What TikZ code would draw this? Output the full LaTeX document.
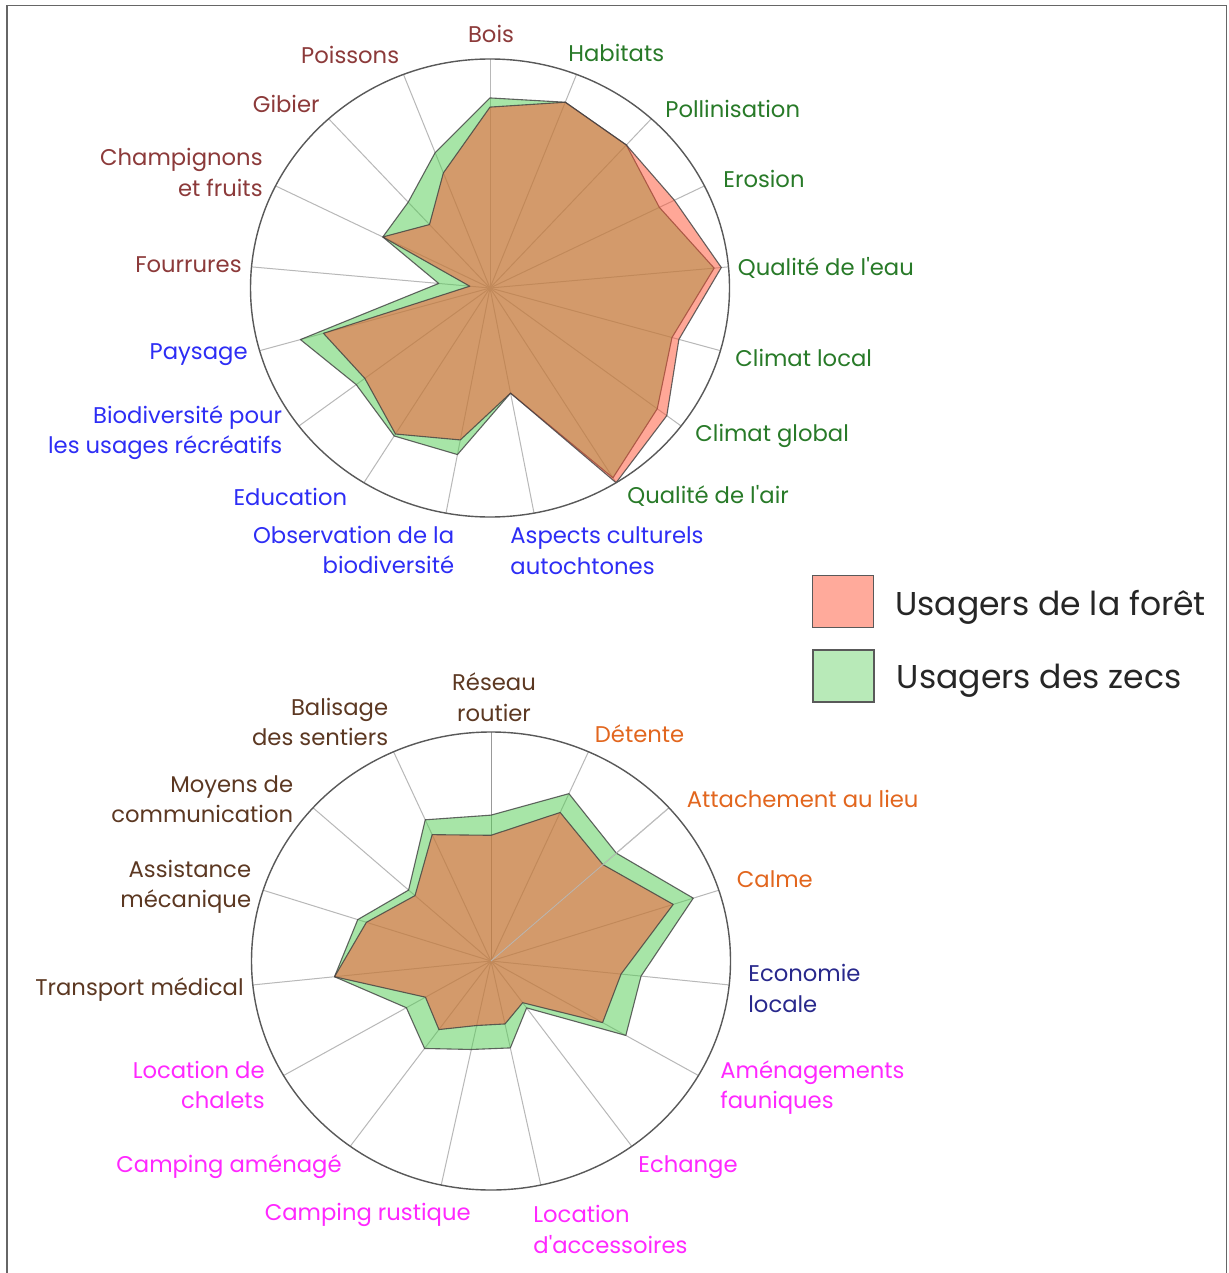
\documentclass[tikz,border=0pt]{standalone}
\usepackage{fontspec}
\setmainfont{Poppins}[Ligatures=TeXOff]
\definecolor{gfillc}{RGB}{81,205,81}
\definecolor{rfillc}{RGB}{255,81,49}
\definecolor{legred}{RGB}{255,170,155}
\definecolor{leggreen}{RGB}{184,234,184}
\definecolor{cmaroon}{RGB}{140,58,58}
\definecolor{cgreen}{RGB}{40,122,40}
\definecolor{cblue}{RGB}{45,45,245}
\definecolor{cbrown}{RGB}{92,56,34}
\definecolor{corange}{RGB}{226,102,30}
\definecolor{cnavy}{RGB}{40,40,140}
\definecolor{cmagenta}{RGB}{255,40,255}
\begin{document}
\begin{tikzpicture}[x=0.5pt,y=-0.5pt,
  frame/.style={draw=black!60,line width=0.9pt},
  spoke/.style={draw=black!28,line width=0.5pt},
  ring/.style={draw=black!65,line width=0.7pt},
  gpoly/.style={fill=gfillc,fill opacity=0.5,draw=black!75,draw opacity=0.8,line width=0.55pt,line join=round},
  rpoly/.style={fill=rfillc,fill opacity=0.5,draw=black!75,draw opacity=0.8,line width=0.55pt,line join=round},
  lab/.style={font=\fontsize{11.35}{14}\selectfont,inner sep=0pt},
  legtext/.style={font=\fontsize{16.5}{19}\selectfont,inner sep=0pt,text=black!85},
  legbox/.style={draw=black!65,line width=0.9pt}]
\useasboundingbox (0,0) rectangle (1228,1273);
\fill[white] (0,0) rectangle (1228,1273);
\draw[frame] (7,1273) -- (7,5.5) -- (1226.5,5.5) -- (1226.5,1273);

% ---------------- top chart ----------------
\def\topG{0.83,0.87,0.845,0.79,0.94,0.79,0.875,0.975,0.467,0.74,0.76,0.70,0.823,0.215,0.50,0.507,0.634}
\def\topR{0.79,0.87,0.845,0.86,0.97,0.82,0.925,1.0,0.467,0.675,0.75,0.655,0.723,0.085,0.50,0.375,0.539}
\coordinate (tc) at (490,288);
\foreach \i in {0,...,16}
  \coordinate (ts\i) at ({490+239.5*cos(90-\i*360/17)},{288-229*sin(90-\i*360/17)});
\foreach \r [count=\i from 0] in \topG
  \coordinate (tg\i) at ({490+\r*239.5*cos(90-\i*360/17)},{288-\r*229*sin(90-\i*360/17)});
\foreach \r [count=\i from 0] in \topR
  \coordinate (tr\i) at ({490+\r*239.5*cos(90-\i*360/17)},{288-\r*229*sin(90-\i*360/17)});
\foreach \i in {0,...,16} \draw[spoke] (tc) -- (ts\i);
\path[gpoly] (tg0) \foreach \i in {1,...,16}{ -- (tg\i)} -- cycle;
\path[rpoly] (tr0) \foreach \i in {1,...,16}{ -- (tr\i)} -- cycle;
\draw[ring] (tc) ellipse [x radius=239.5, y radius=229];

\node[lab,text=cmaroon,anchor=base] (lbois) at (491,43) {Bois};
\node[lab,text=cgreen,anchor=base west] (lhab) at (568,62) {Habitats};
\node[lab,text=cgreen,anchor=base west] (lpol) at (665,117.5) {Pollinisation};
\node[lab,text=cgreen,anchor=base west] (lero) at (723,188) {Erosion};
\node[lab,text=cgreen,anchor=base west] (lqe) at (737.5,275) {Qualité de l'eau};
\node[lab,text=cgreen,anchor=base west] (lcl) at (735,366.5) {Climat local};
\node[lab,text=cgreen,anchor=base west] (lcg) at (695,441) {Climat global};
\node[lab,text=cgreen,anchor=base west] (lqa) at (627,503.5) {Qualité de l'air};
\node[lab,text=cblue,anchor=base west] (lasp1) at (510,543.5) {Aspects culturels};
\node[lab,text=cblue,anchor=base west] (lasp2) at (510,574) {autochtones};
\node[lab,text=cblue,anchor=base east] (lobs1) at (454.5,543) {Observation de la};
\node[lab,text=cblue,anchor=base east] (lobs2) at (454.5,573.5) {biodiversité};
\node[lab,text=cblue,anchor=base east] (ledu) at (347.5,505) {Education};
\node[lab,text=cblue,anchor=base east] (lbio1) at (282.5,423) {Biodiversité pour};
\node[lab,text=cblue,anchor=base east] (lbio2) at (282.5,453.5) {les usages récréatifs};
\node[lab,text=cblue,anchor=base east] (lpay) at (248,359) {Paysage};
\node[lab,text=cmaroon,anchor=base east] (lfou) at (242,272.5) {Fourrures};
\node[lab,text=cmaroon,anchor=base east] (lcha1) at (263,166) {Champignons};
\node[lab,text=cmaroon,anchor=base east] (lcha2) at (263,196.5) {et fruits};
\node[lab,text=cmaroon,anchor=base east] (lgib) at (320,113) {Gibier};
\node[lab,text=cmaroon,anchor=base east] (lpoi) at (399.5,63.5) {Poissons};

% ---------------- legend ----------------
\node[legbox,fill=legred,minimum width=30.5pt,minimum height=26pt,inner sep=0pt] (kred) at (843,601.5) {};
\node[legbox,fill=leggreen,minimum width=30.5pt,minimum height=26pt,inner sep=0pt] (kgreen) at (843.5,676) {};
\node[legtext,anchor=base west] (tred) at (895,615) {Usagers de la forêt};
\node[legtext,anchor=base west] (tgreen) at (896.5,688.5) {Usagers des zecs};

% ---------------- bottom chart ----------------
\def\botG{0.637,0.80,0.704,0.888,0.63,0.65,0.253,0.388,0.395,0.472,0.408,0.657,0.585,0.463,0.675}
\def\botR{0.549,0.71,0.629,0.80,0.546,0.538,0.225,0.281,0.288,0.37,0.316,0.657,0.547,0.427,0.604}
\coordinate (bc) at (491,961);
\foreach \i in {0,...,14}
  \coordinate (bs\i) at ({491+239.5*cos(90-\i*24)},{961-229*sin(90-\i*24)});
\foreach \r [count=\i from 0] in \botG
  \coordinate (bg\i) at ({491+\r*239.5*cos(90-\i*24)},{961-\r*229*sin(90-\i*24)});
\foreach \r [count=\i from 0] in \botR
  \coordinate (br\i) at ({491+\r*239.5*cos(90-\i*24)},{961-\r*229*sin(90-\i*24)});
\foreach \i in {1,...,14} \draw[spoke] (bc) -- (bs\i);
\draw[spoke,draw=black!40] (bc) -- (bs0);
\path[gpoly] (bg0) \foreach \i in {1,...,14}{ -- (bg\i)} -- cycle;
\path[rpoly] (br0) \foreach \i in {1,...,14}{ -- (br\i)} -- cycle;
\draw[spoke,draw=black!25,draw opacity=0.8] (bc) -- (bs2);
\draw[ring] (bc) ellipse [x radius=239.5, y radius=229];

\node[lab,text=cbrown,anchor=base] (lres1) at (494,690.5) {Réseau};
\node[lab,text=cbrown,anchor=base] (lres2) at (494,721) {routier};
\node[lab,text=corange,anchor=base west] (ldet) at (594.5,742) {Détente};
\node[lab,text=corange,anchor=base west] (latt) at (686.5,807) {Attachement au lieu};
\node[lab,text=corange,anchor=base west] (lcal) at (736.5,887.5) {Calme};
\node[lab,text=cnavy,anchor=base west] (leco1) at (748,981.5) {Economie};
\node[lab,text=cnavy,anchor=base west] (leco2) at (748,1012) {locale};
\node[lab,text=cmagenta,anchor=base west] (lame1) at (720,1078) {Aménagements};
\node[lab,text=cmagenta,anchor=base west] (lame2) at (720,1108) {fauniques};
\node[lab,text=cmagenta,anchor=base west] (lech) at (638,1172.5) {Echange};
\node[lab,text=cmagenta,anchor=base west] (lloc1) at (533,1222.5) {Location};
\node[lab,text=cmagenta,anchor=base west] (lloc2) at (533,1253) {d'accessoires};
\node[lab,text=cmagenta,anchor=base east] (lcru) at (471,1220.5) {Camping rustique};
\node[lab,text=cmagenta,anchor=base east] (lcam) at (342,1172.5) {Camping aménagé};
\node[lab,text=cmagenta,anchor=base east] (lcha1b) at (265,1078) {Location de};
\node[lab,text=cmagenta,anchor=base east] (lcha2b) at (265,1108.5) {chalets};
\node[lab,text=cbrown,anchor=base west] (ltra) at (35,995) {Transport médical};
\node[lab,text=cbrown,anchor=base east] (lass1) at (251.5,877) {Assistance};
\node[lab,text=cbrown,anchor=base east] (lass2) at (251.5,907.5) {mécanique};
\node[lab,text=cbrown,anchor=base east] (lmoy1) at (293.5,792) {Moyens de};
\node[lab,text=cbrown,anchor=base east] (lmoy2) at (293.5,822.5) {communication};
\node[lab,text=cbrown,anchor=base east] (lbal1) at (388.5,715.5) {Balisage};
\node[lab,text=cbrown,anchor=base east] (lbal2) at (388.5,745.5) {des sentiers};
\end{tikzpicture}
\end{document}
